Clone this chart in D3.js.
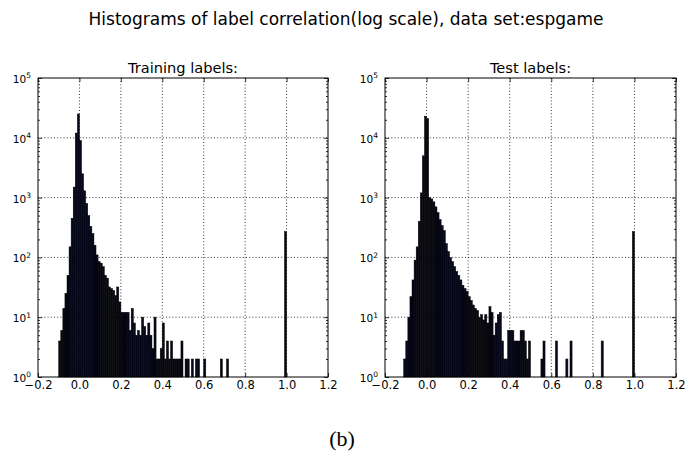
<!DOCTYPE html>
<html lang="en">

<head>
  <meta charset="UTF-8">
  <title>Histograms of label correlation</title>
  <script src="https://d3js.org/d3.v7.min.js"></script>
  <style>
    body {
      margin: 0;
      padding: 0;
      background: #fff;
    }

    svg text {
      font-family: "DejaVu Sans", sans-serif;
      fill: #000;
    }
  </style>
</head>

<body>
  <svg id="chart"></svg>
  <script>
    // bin counts, bins are 0.01 wide
    const binWidth = 0.01;
    const trainStart = -0.10;
    const trainCounts = [
      4, 6, 14, 25, 50, 150, 450, 1500, 12000, 25000,
      9000, 2500, 1300, 800, 500, 330, 250, 160, 110, 85,
      80, 70, 50, 45, 32, 30, 28, 23, 32, 18,
      12, 12, 12, 12, 6, 14, 8, 5, 6, 5,
      10, 7, 5, 8, 5, 3, 10, 2, 2, 3,
      8, 2, 4, 2, 4, 2, 2, 2, 2, 4,
      0, 2, 2, 0, 2, 0, 2, 2, 0, 0,
      2, 0, 0, 0, 0, 0, 0, 0, 2, 0,
      0, 2, 0, 0, 0, 0, 0, 0, 0, 0,
      0, 0, 0, 0, 0, 0, 0, 0, 0, 0,
      0, 0, 0, 0, 0, 0, 0, 0, 0, 270
    ];
    const testStart = -0.11;
    const testCounts = [
      2, 4, 10, 22, 42, 90, 150, 400, 1200, 5000,
      23000, 21000, 1000, 950, 850, 700, 560, 430, 340, 280,
      170, 125, 100, 85, 70, 58, 50, 42, 34, 30,
      27, 22, 19, 16, 14, 13, 10, 11, 9, 11,
      8, 15, 12, 5, 8, 11, 12, 4, 2, 2,
      6, 6, 6, 4, 4, 4, 6, 6, 4, 2,
      4, 0, 0, 0, 0, 0, 2, 4, 0, 0,
      0, 0, 0, 4, 0, 0, 0, 0, 2, 0,
      4, 0, 0, 0, 0, 0, 0, 0, 0, 0,
      0, 0, 0, 0, 0, 4, 0, 0, 0, 0,
      0, 0, 0, 0, 0, 0, 0, 0, 0, 0,
      270
    ];

    const xTicks = [-0.2, 0.0, 0.2, 0.4, 0.6, 0.8, 1.0, 1.2];
    const yTicks = [1, 10, 100, 1000, 10000, 100000];

    const width = 687;
    const height = 455;

    const svg = d3.select("#chart")
      .attr("width", width)
      .attr("height", height);

    svg.append("text")
      .attr("x", 346)
      .attr("y", 25)
      .attr("text-anchor", "middle")
      .attr("font-size", 17)
      .text("Histograms of label correlation(log scale), data set:espgame");

    svg.append("text")
      .attr("x", 342)
      .attr("y", 446)
      .attr("text-anchor", "middle")
      .attr("font-size", 22)
      .style("font-family", "'Liberation Serif', 'Times New Roman', serif")
      .text("(b)");

    drawPanel(38, 328, "Training labels:", trainStart, trainCounts);
    drawPanel(385, 676, "Test labels:", testStart, testCounts);

    function drawPanel(left, right, title, start, counts) {
      const top = 78;
      const bottom = 377;

      const x = d3.scaleLinear().domain([-0.2, 1.2]).range([left, right]);
      const y = d3.scaleLog().domain([1, 1e5]).range([bottom, top]);

      const g = svg.append("g");

      const bins = counts.map((c, i) => ({ x0: start + i * binWidth, x1: start + (i + 1) * binWidth, count: c }))
        .filter(d => d.count > 0);

      g.append("g")
        .selectAll("rect")
        .data(bins)
        .join("rect")
        .attr("x", d => x(d.x0))
        .attr("width", d => x(d.x1) - x(d.x0))
        .attr("y", d => y(d.count))
        .attr("height", d => y(1) - y(d.count))
        .attr("fill", "#07071a")
        .attr("stroke", "#000")
        .attr("stroke-width", 0.5);

      // dotted grid
      const grid = g.append("g")
        .attr("stroke", "#000")
        .attr("stroke-width", 0.8)
        .attr("stroke-dasharray", "1,2.2");

      grid.selectAll(".vg")
        .data(xTicks.slice(1, -1))
        .join("line")
        .attr("x1", d => x(d)).attr("x2", d => x(d))
        .attr("y1", top).attr("y2", bottom);

      grid.selectAll(".hg")
        .data(yTicks.slice(1, -1))
        .join("line")
        .attr("y1", d => y(d)).attr("y2", d => y(d))
        .attr("x1", left).attr("x2", right);

      // axes with inside ticks
      const fmt = d3.format(".1f");
      const xAxis = g.append("g")
        .attr("transform", `translate(0,${bottom})`)
        .call(d3.axisBottom(x).tickValues(xTicks).tickFormat(fmt).tickSizeInner(-4).tickSizeOuter(0).tickPadding(4));

      g.append("g")
        .attr("transform", `translate(0,${top})`)
        .call(d3.axisTop(x).tickValues(xTicks).tickFormat("").tickSizeInner(-4).tickSizeOuter(0));

      const yAxis = g.append("g")
        .attr("transform", `translate(${left},0)`)
        .call(d3.axisLeft(y).tickValues(yTicks).tickFormat("").tickSizeInner(-4).tickSizeOuter(0).tickPadding(7));

      g.append("g")
        .attr("transform", `translate(${right},0)`)
        .call(d3.axisRight(y).tickValues(yTicks).tickFormat("").tickSizeInner(-4).tickSizeOuter(0));

      // minor log ticks
      const minor = y.ticks().filter(v => !yTicks.includes(v));
      g.append("g")
        .attr("transform", `translate(${left},0)`)
        .call(d3.axisLeft(y).tickValues(minor).tickFormat("").tickSizeInner(-2).tickSizeOuter(0));
      g.append("g")
        .attr("transform", `translate(${right},0)`)
        .call(d3.axisRight(y).tickValues(minor).tickFormat("").tickSizeInner(-2).tickSizeOuter(0));

      g.selectAll(".domain").remove();
      g.selectAll(".tick line").attr("stroke", "#000").attr("stroke-width", 0.8);

      xAxis.selectAll(".tick text")
        .attr("font-size", 11.5)
        .style("font-family", "'DejaVu Sans', sans-serif");

      yAxis.selectAll(".tick text")
        .attr("font-size", 10.5)
        .attr("dy", "0.42em")
        .style("font-family", "'DejaVu Sans', sans-serif")
        .each(function (d) {
          const t = d3.select(this);
          t.text("10");
          t.append("tspan")
            .attr("dy", "-0.6em")
            .attr("font-size", 7.5)
            .text(Math.round(Math.log10(d)));
        });

      g.append("rect")
        .attr("x", left)
        .attr("y", top)
        .attr("width", right - left)
        .attr("height", bottom - top)
        .attr("fill", "none")
        .attr("stroke", "#000")
        .attr("stroke-width", 1);

      g.append("text")
        .attr("x", (left + right) / 2)
        .attr("y", top - 5)
        .attr("text-anchor", "middle")
        .attr("font-size", 14.6)
        .text(title);
    }
  </script>
</body>

</html>
